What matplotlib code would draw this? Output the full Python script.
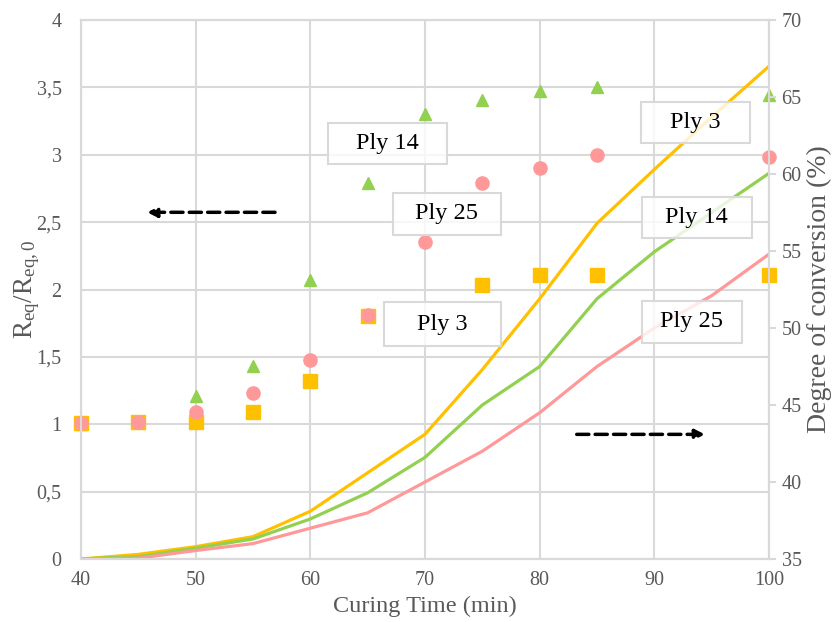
import matplotlib.pyplot as plt
from matplotlib.patches import Rectangle
from matplotlib.ticker import FuncFormatter
import numpy as np

plt.rcParams['font.family'] = ['Liberation Serif', 'DejaVu Serif']
plt.rcParams['mathtext.fontset'] = 'custom'
plt.rcParams['mathtext.rm'] = 'Liberation Serif'
plt.rcParams['mathtext.it'] = 'Liberation Serif:italic'

# resistance ratio (left axis), measured points
t_marks = [40, 45, 50, 55, 60, 65, 70, 75, 80, 85, 100]
ply14_r = [1.00, 1.02, 1.21, 1.43, 2.07, 2.79, 3.30, 3.41, 3.47, 3.50, 3.44]
ply25_r = [1.01, 1.02, 1.09, 1.23, 1.48, 1.81, 2.35, 2.79, 2.90, 3.00, 2.98]
ply3_r = [1.01, 1.02, 1.02, 1.09, 1.32, 1.80, np.nan, 2.03, 2.11, 2.11, 2.11]

# degree of conversion (right axis)
t_line = [40, 45, 50, 55, 60, 65, 70, 75, 80, 85, 90, 95, 100]
ply3_doc = [35.0, 35.3, 35.8, 36.45, 38.1, 40.6, 43.1, 47.3, 51.9, 56.8, 60.3, 63.7, 67.0]
ply14_doc = [35.0, 35.15, 35.7, 36.3, 37.6, 39.3, 41.6, 45.0, 47.5, 51.9, 54.95, 57.5, 60.05]
ply25_doc = [35.0, 35.05, 35.55, 36.0, 37.0, 38.0, 40.0, 42.0, 44.5, 47.5, 50.0, 52.1, 54.8]

orange = '#FFC000'
green = '#92D050'
pink = '#FF9999'
grid_c = '#D9D9D9'
tick_c = '#595959'

fig = plt.figure(figsize=(8.34, 6.22), dpi=100)
ax = fig.add_axes([0.0971, 0.1013, 0.825, 0.8665])
ax2 = ax.twinx()

ax.plot(t_marks, ply14_r, ls='none', marker='^', ms=9, color=green, zorder=3, clip_on=False)
ax.plot(t_marks, ply3_r, ls='none', marker='s', ms=9.5, color=orange, zorder=3, clip_on=False)
ax.plot(t_marks, ply25_r, ls='none', marker='o', ms=9.5, color=pink, zorder=3, clip_on=False)

ax2.plot(t_line, ply3_doc, color=orange, lw=2.3)
ax2.plot(t_line, ply14_doc, color=green, lw=2.3)
ax2.plot(t_line, ply25_doc, color=pink, lw=2.3)

ax.set_xlim(40, 100)
ax.set_ylim(0, 4)
ax2.set_ylim(35, 70)
ax.set_xticks(np.arange(40, 101, 10))
ax.set_yticks(np.arange(0, 4.01, 0.5))
ax2.set_yticks(np.arange(35, 71, 5))
ax.yaxis.set_major_formatter(FuncFormatter(lambda v, p: ('%g' % v).replace('.', ',')))

ax.grid(True, color=grid_c, lw=1.5)
ax.set_axisbelow(True)
for a in (ax, ax2):
    for s in a.spines.values():
        s.set_color(grid_c)
        s.set_linewidth(1.5)
ax.tick_params(axis='x', length=0, pad=9, labelsize=14.5, labelcolor=tick_c)
ax.tick_params(axis='y', length=0, pad=14, labelsize=14.5, labelcolor=tick_c)
ax2.tick_params(axis='y', length=5, width=1.5, color=grid_c, pad=4, labelsize=14.5, labelcolor=tick_c)

ax.set_xlabel('Curing Time (min)', fontsize=17.5, color=tick_c, labelpad=4)
ax.set_ylabel(r'$\mathregular{R_{eq}/R_{eq,0}}$', fontsize=19.5, color=tick_c)
ax.yaxis.set_label_coords(-0.057, 0.5)
ax2.set_ylabel('Degree of conversion (%)', fontsize=20, color=tick_c, labelpad=4)

# label boxes: text, centre x, centre y (left axis), width, height
labels = [
    ('Ply 14', 66.7, 3.081, 10.4, 0.305),
    ('Ply 25', 71.9, 2.563, 9.45, 0.31),
    ('Ply 3', 71.5, 1.743, 10.2, 0.325),
    ('Ply 3', 93.6, 3.237, 9.45, 0.305),
    ('Ply 14', 93.7, 2.537, 9.6, 0.305),
    ('Ply 25', 93.26, 1.761, 8.7, 0.31),
]
for txt, cx, cy, w, h in labels:
    # boxes sit on top of the lines, so draw them in the twin axes
    y2 = 35 + cy * 35 / 4
    h2 = h * 35 / 4
    ax2.add_patch(Rectangle((cx - w / 2, y2 - h2 / 2), w, h2, facecolor='white',
                            alpha=0.8, edgecolor='none', zorder=5))
    ax2.add_patch(Rectangle((cx - w / 2, y2 - h2 / 2), w, h2, facecolor='none',
                            edgecolor=grid_c, lw=1.5, zorder=6))
    ax2.text(cx, y2, txt, ha='center', va='center', fontsize=17.5, color='black', zorder=7)

# direction arrows
ax.annotate('', xy=(45.76, 2.573), xytext=(56.92, 2.573),
            arrowprops=dict(arrowstyle='-|>', color='black', lw=2.5,
                            ls=(0, (3.5, 1.8)), mutation_scale=14, shrinkA=0, shrinkB=0))
ax.annotate('', xy=(94.42, 0.925), xytext=(83.23, 0.925),
            arrowprops=dict(arrowstyle='-|>', color='black', lw=2.5,
                            ls=(0, (3.5, 1.8)), mutation_scale=14, shrinkA=0, shrinkB=0))

fig.savefig('out.png', dpi=100)
